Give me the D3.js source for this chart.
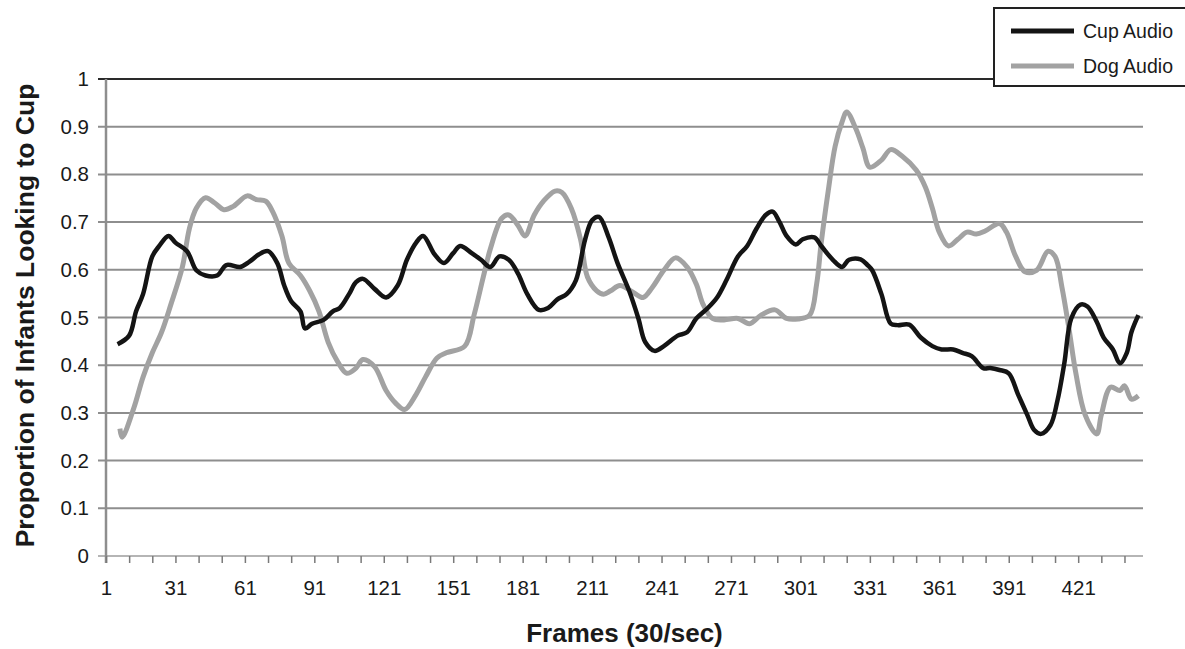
<!DOCTYPE html>
<html>
<head>
<meta charset="utf-8">
<script src="https://cdn.jsdelivr.net/npm/d3@7"></script>
<style>
  html, body { margin: 0; padding: 0; background: #fff; }
  svg { display: block; font-family: "Liberation Sans", Arial, Helvetica, sans-serif; }
</style>
</head>
<body>
<svg id="chart" width="1185" height="649"></svg>
<script>
// values (frame number -> proportion)
const cupFrames = [6, 11, 14, 17, 21, 24, 28, 31, 36, 40, 44, 49, 53, 59, 63, 67, 71, 75, 78, 81, 85, 87, 90, 95, 99, 102, 106, 109, 112, 117, 122, 127, 131, 135, 138, 143, 147, 151, 154, 159, 163, 167, 171, 175, 179, 183, 188, 192, 196, 200, 204, 208, 211, 214, 218, 222, 227, 231, 234, 238, 242, 248, 252, 256, 261, 265, 269, 274, 278, 282, 286, 289, 292, 295, 299, 302, 307, 310, 315, 319, 322, 327, 330, 332, 336, 340, 343, 348, 353, 358, 362, 367, 371, 375, 380, 383, 387, 391, 395, 399, 402, 405, 409, 412, 415, 418, 422, 425, 429, 432, 436, 439, 442, 444, 447];
const cupValues = [0.444, 0.462, 0.513, 0.549, 0.628, 0.65, 0.671, 0.657, 0.639, 0.599, 0.588, 0.588, 0.61, 0.606, 0.617, 0.632, 0.639, 0.614, 0.567, 0.534, 0.513, 0.477, 0.487, 0.495, 0.513, 0.52, 0.549, 0.574, 0.581, 0.56, 0.542, 0.567, 0.621, 0.657, 0.671, 0.632, 0.614, 0.635, 0.65, 0.635, 0.621, 0.606, 0.628, 0.621, 0.592, 0.549, 0.516, 0.52, 0.538, 0.549, 0.578, 0.664, 0.704, 0.711, 0.67, 0.614, 0.556, 0.498, 0.448, 0.43, 0.44, 0.462, 0.469, 0.498, 0.52, 0.542, 0.578, 0.628, 0.65, 0.686, 0.715, 0.722, 0.7, 0.671, 0.653, 0.664, 0.668, 0.65, 0.621, 0.606, 0.621, 0.622, 0.61, 0.599, 0.549, 0.487, 0.484, 0.485, 0.458, 0.44, 0.433, 0.433, 0.426, 0.419, 0.394, 0.394, 0.39, 0.383, 0.339, 0.296, 0.264, 0.256, 0.274, 0.325, 0.404, 0.498, 0.527, 0.523, 0.491, 0.458, 0.433, 0.404, 0.426, 0.469, 0.505];

const dogFrames = [7, 8, 13, 17, 21, 25, 29, 34, 37, 40, 44, 48, 52, 56, 62, 66, 70, 73, 77, 80, 85, 89, 93, 97, 101, 105, 109, 112, 117, 122, 126, 130, 135, 139, 144, 148, 156, 160, 164, 167, 172, 175, 179, 182, 186, 190, 195, 198, 202, 206, 209, 213, 216, 219, 223, 229, 233, 237, 242, 247, 252, 256, 259, 263, 268, 274, 279, 284, 290, 295, 300, 305, 308, 310, 313, 316, 319, 321, 325, 328, 331, 336, 340, 345, 351, 355, 358, 361, 365, 369, 373, 377, 381, 387, 390, 394, 398, 403, 408, 411, 414, 417, 420, 424, 429, 431, 435, 439, 441, 444, 447];
const dogValues = [0.267, 0.249, 0.31, 0.375, 0.426, 0.469, 0.527, 0.606, 0.686, 0.729, 0.751, 0.74, 0.726, 0.733, 0.755, 0.747, 0.744, 0.722, 0.671, 0.614, 0.588, 0.556, 0.513, 0.448, 0.408, 0.383, 0.394, 0.412, 0.397, 0.347, 0.321, 0.307, 0.339, 0.375, 0.415, 0.426, 0.44, 0.505, 0.585, 0.643, 0.708, 0.715, 0.693, 0.671, 0.715, 0.744, 0.765, 0.762, 0.729, 0.664, 0.585, 0.556, 0.549, 0.556, 0.567, 0.552, 0.542, 0.563, 0.599, 0.625, 0.606, 0.57, 0.527, 0.498, 0.495, 0.498, 0.487, 0.505, 0.516, 0.498, 0.497, 0.505, 0.57, 0.657, 0.765, 0.859, 0.91, 0.931, 0.895, 0.855, 0.815, 0.83, 0.852, 0.838, 0.809, 0.773, 0.729, 0.679, 0.65, 0.664, 0.679, 0.675, 0.682, 0.697, 0.679, 0.628, 0.596, 0.599, 0.639, 0.628, 0.563, 0.477, 0.383, 0.296, 0.256, 0.296, 0.354, 0.347, 0.357, 0.329, 0.336];

const yTicks = [0, 0.1, 0.2, 0.3, 0.4, 0.5, 0.6, 0.7, 0.8, 0.9, 1];
const xTickLabels = [1, 31, 61, 91, 121, 151, 181, 211, 241, 271, 301, 331, 361, 391, 421];
const xMinorTicks = d3.range(1, 449, 10);

const seriesNames = ["Cup Audio", "Dog Audio"];
const seriesColors = ["#141414", "#a2a2a2"];

const svg = d3.select("#chart");
const plotLeft = 106, plotRight = 1143, plotTop = 79, plotBottom = 556;

const x = d3.scaleLinear().domain([1, 449]).range([plotLeft, plotRight]);
const y = d3.scaleLinear().domain([0, 1]).range([plotBottom, plotTop]);

// horizontal gridlines
svg.append("g")
  .selectAll("line")
  .data(yTicks)
  .join("line")
  .attr("x1", plotLeft - 8)
  .attr("x2", plotRight)
  .attr("y1", d => y(d))
  .attr("y2", d => y(d))
  .attr("stroke", d => d === 1 ? "#2a2a2a" : (d === 0 ? "#b5b5b5" : "#8e8e8e"))
  .attr("stroke-width", 2);

// y axis line
svg.append("line")
  .attr("x1", plotLeft).attr("x2", plotLeft)
  .attr("y1", plotTop).attr("y2", plotBottom + 7)
  .attr("stroke", "#8e8e8e")
  .attr("stroke-width", 2.5);

// x axis ticks + labels
const xAxis = d3.axisBottom(x)
  .tickValues(xMinorTicks)
  .tickSize(7)
  .tickFormat(d => xTickLabels.includes(d) ? d : "");
const gx = svg.append("g")
  .attr("transform", `translate(0,${plotBottom})`)
  .call(xAxis);
gx.select(".domain").remove();
gx.selectAll(".tick line").attr("stroke", "#7a7a7a").attr("stroke-width", 1.5);
gx.selectAll(".tick text")
  .attr("y", 24)
  .attr("dy", "0.71em")
  .attr("fill", "#1a1a1a")
  .style("font-size", "20.5px")
  .style("font-family", "'Liberation Sans', Arial, sans-serif");

// y axis labels
const yAxis = d3.axisLeft(y).tickValues(yTicks).tickSize(0).tickFormat(d => d);
const gy = svg.append("g")
  .attr("transform", `translate(${plotLeft},0)`)
  .call(yAxis);
gy.select(".domain").remove();
gy.selectAll(".tick text")
  .attr("x", -17)
  .attr("fill", "#1a1a1a")
  .style("font-size", "20.5px")
  .style("font-family", "'Liberation Sans', Arial, sans-serif");

// lines
const line = d3.line()
  .x(d => x(d[0]))
  .y(d => y(d[1]))
  .curve(d3.curveCatmullRom.alpha(0.5));

const dogData = dogFrames.map((f, i) => [f, dogValues[i]]);
const cupData = cupFrames.map((f, i) => [f, cupValues[i]]);

svg.append("path")
  .datum(dogData)
  .attr("fill", "none")
  .attr("stroke", seriesColors[1])
  .attr("stroke-width", 5)
  .attr("stroke-linejoin", "round")
  .attr("d", line);

svg.append("path")
  .datum(cupData)
  .attr("fill", "none")
  .attr("stroke", seriesColors[0])
  .attr("stroke-width", 4.5)
  .attr("stroke-linejoin", "round")
  .attr("d", line);

// axis titles
svg.append("text")
  .attr("x", (plotLeft + plotRight) / 2)
  .attr("y", 642)
  .attr("text-anchor", "middle")
  .attr("font-weight", "bold")
  .attr("font-size", 26)
  .attr("fill", "#1a1a1a")
  .text("Frames (30/sec)");

svg.append("text")
  .attr("transform", `translate(34,${(plotTop + plotBottom) / 2 - 2}) rotate(-90)`)
  .attr("text-anchor", "middle")
  .attr("font-weight", "bold")
  .attr("font-size", 26.5)
  .attr("fill", "#1a1a1a")
  .text("Proportion of Infants Looking to Cup");

// legend
const legend = svg.append("g");
legend.append("rect")
  .attr("x", 994).attr("y", 8)
  .attr("width", 200).attr("height", 78)
  .attr("fill", "#fff")
  .attr("stroke", "#222")
  .attr("stroke-width", 2);

seriesNames.forEach((name, i) => {
  const ly = 31 + i * 35;
  legend.append("line")
    .attr("x1", 1011).attr("x2", 1074)
    .attr("y1", ly).attr("y2", ly)
    .attr("stroke", seriesColors[i])
    .attr("stroke-width", 5);
  legend.append("text")
    .attr("x", 1083).attr("y", ly + 7)
    .attr("font-size", 19.5)
    .attr("fill", "#1a1a1a")
    .text(name);
});
</script>
</body>
</html>
